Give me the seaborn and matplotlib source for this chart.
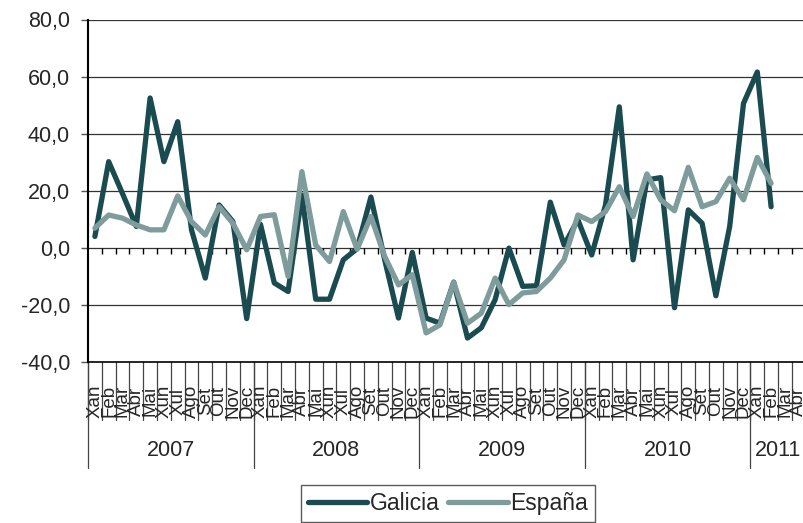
import pandas as pd
import numpy as np
import matplotlib
matplotlib.use('Agg')
import matplotlib.pyplot as plt
import seaborn as sns

# Month labels (galician abbreviations) and years
months = ['Xan', 'Feb', 'Mar', 'Abr', 'Mai', 'Xun', 'Xul', 'Ago', 'Set', 'Out', 'Nov', 'Dec']
years = ['2007', '2008', '2009', '2010', '2011']
months_per_year = [12, 12, 12, 12, 4]

# Series values (2007 Xan .. 2011 Abr)
galicia = [4.0, 30.2, 19.0, 7.5, 52.5, 30.2, 44.2, 6.3, -10.6, 15.0, 9.2, -24.8,
           8.2, -12.3, -15.3, 18.5, -18.0, -18.0, -4.2, -0.3, 17.8, -4.2, -24.6, -1.6,
           -24.6, -26.4, -12.0, -31.6, -28.0, -18.2, -0.1, -13.5, -13.3, 16.0, 1.0, 9.8,
           -2.5, 15.0, 49.4, -4.2, 23.8, 24.6, -21.0, 13.3, 8.6, -16.8, 7.5, 50.6,
           61.6, 14.4, np.nan, np.nan]
espana = [6.9, 11.5, 10.4, 8.0, 6.3, 6.3, 18.2, 9.2, 4.5, 14.4, 8.6, -0.7,
          11.0, 11.6, -10.0, 26.7, 1.0, -4.8, 12.7, -0.5, 11.0, -3.0, -13.0, -9.4,
          -29.8, -27.0, -12.1, -26.4, -22.9, -10.6, -19.9, -15.8, -15.3, -10.6, -4.2, 11.5,
          9.2, 12.7, 21.4, 11.0, 25.9, 16.8, 13.0, 28.2, 14.4, 16.2, 24.4, 16.8,
          31.7, 22.6, np.nan, np.nan]

n = len(galicia)
pos = np.arange(n) + 0.5
df = pd.DataFrame({'pos': np.concatenate([pos, pos]),
                   'valor': galicia + espana,
                   'serie': ['Galicia'] * n + ['España'] * n})

sns.set_style('white')
plt.rcParams['font.family'] = ['Liberation Sans', 'DejaVu Sans']

fig = plt.figure(figsize=(8.04, 5.23), dpi=100)
ax = fig.add_axes([88 / 804, 1 - 362 / 523, 717.6 / 804, 342.5 / 523])

colors = {'Galicia': '#1a4b51', 'España': '#7f9c9c'}

# gridlines
for v in [-20, 0, 20, 40, 60, 80]:
    ax.axhline(v, color='#333333', lw=0.9, zorder=1)

sns.lineplot(data=df, x='pos', y='valor', hue='serie', palette=colors,
             lw=3.8, ax=ax, legend=False, zorder=3, sort=False)

ax.set_xlim(0, n)
ax.set_ylim(-40, 80)
ax.set_yticks(range(-40, 81, 20))
ax.set_yticklabels([f'{v:.1f}'.replace('.', ',') for v in range(-40, 81, 20)], fontsize=15.5)
ax.tick_params(axis='y', direction='out', length=5, width=1, color='#555555', pad=8, left=True)
ax.set_xticks([])
ax.set_xlabel('')
ax.set_ylabel('')

for s in ['top', 'right']:
    ax.spines[s].set_visible(False)
ax.spines['left'].set_color('black')
ax.spines['left'].set_linewidth(1.5)
ax.spines['bottom'].set_color('black')
ax.spines['bottom'].set_linewidth(1.2)

# small ticks on zero line
ax.vlines(np.arange(1, n), -2.2, 0, color='black', lw=1, zorder=2)

# category axis: month labels with separators, then years
xt = ax.get_xaxis_transform()
for i in range(n + 1):
    ax.plot([i, i], [0, -0.168], color='#444444', lw=0.9, transform=xt, clip_on=False)

labels = []
for k in months_per_year:
    labels += months[:k]
for i, lab in enumerate(labels):
    ax.text(i + 0.5, -0.114, lab, transform=xt, rotation=90, ha='center', va='center',
            fontsize=13.5)

start = 0
for yr, k in zip(years, months_per_year):
    ax.plot([start, start], [0, -0.31], color='#444444', lw=0.9, transform=xt, clip_on=False)
    ax.text(start + k / 2, -0.257, yr, transform=xt, ha='center', va='center', fontsize=15.5)
    start += k

# legend
handles = [plt.Line2D([], [], color=colors['Galicia'], lw=3.8, solid_capstyle='round'),
           plt.Line2D([], [], color=colors['España'], lw=3.8, solid_capstyle='round')]
leg = fig.legend(handles, ['Galicia', 'España'], loc='upper center',
                 bbox_to_anchor=(0.557, 0.072), ncol=2, fontsize=16.5, frameon=True,
                 fancybox=False, handlelength=2.6, handletextpad=0.1, columnspacing=0.4,
                 borderpad=0.3, borderaxespad=0)
leg.get_frame().set_edgecolor('#333333')
leg.get_frame().set_linewidth(1)

fig.savefig('out.png', dpi=100)
